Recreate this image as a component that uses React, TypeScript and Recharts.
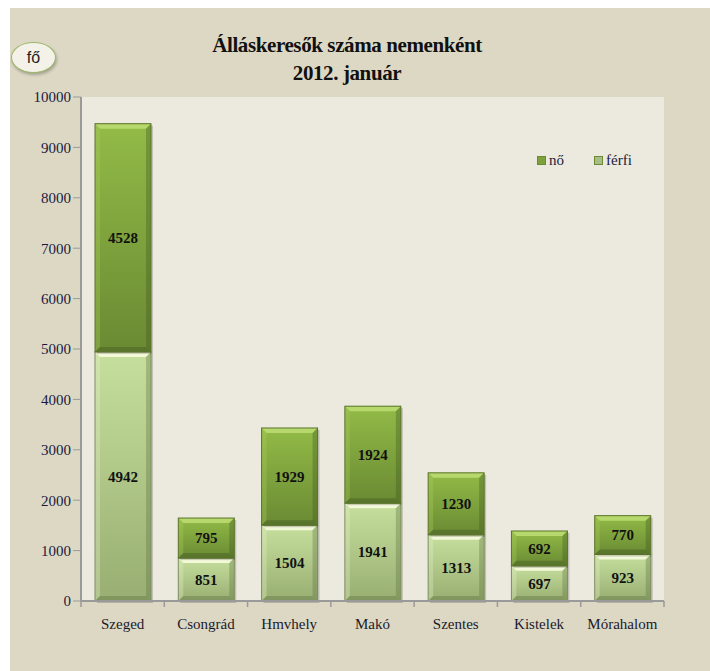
import { BarChart, Bar, XAxis, YAxis, CartesianGrid, LabelList } from 'recharts';

const categories = ['Szeged', 'Csongrád', 'Hmvhely', 'Makó', 'Szentes', 'Kistelek', 'Mórahalom'];
const ferfi = [4942, 851, 1504, 1941, 1313, 697, 923];
const no = [4528, 795, 1929, 1924, 1230, 692, 770];
const yTicks = [0, 1000, 2000, 3000, 4000, 5000, 6000, 7000, 8000, 9000, 10000];

const chartData = categories.map((name, i) => ({ name, ferfi: ferfi[i], no: no[i] }));

const SERIF = '"Liberation Serif", "Times New Roman", serif';

function BevelBar(props: any) {
  const { x, y, width, height, light, dark, hi, edge } = props;
  if (!height || height <= 0) return null;
  const b = Math.min(5, height / 3);
  return (
    <g>
      <rect x={x + 2} y={y + 2} width={width} height={height} fill="rgba(0,0,0,0.18)" />
      <rect x={x} y={y} width={width} height={height} fill={`url(#${props.gid})`} />
      <polygon
        points={`${x},${y} ${x + width},${y} ${x + width - b},${y + b} ${x + b},${y + b}`}
        fill={hi}
      />
      <polygon
        points={`${x},${y} ${x + b},${y + b} ${x + b},${y + height - b} ${x},${y + height}`}
        fill={light}
        opacity={0.35}
      />
      <polygon
        points={`${x + width},${y} ${x + width - b},${y + b} ${x + width - b},${y + height - b} ${x + width},${y + height}`}
        fill={dark}
        opacity={0.35}
      />
      <polygon
        points={`${x},${y + height} ${x + b},${y + height - b} ${x + width - b},${y + height - b} ${x + width},${y + height}`}
        fill={dark}
        opacity={0.4}
      />
      <rect x={x} y={y} width={width} height={height} fill="none" stroke={edge} strokeWidth={1} />
    </g>
  );
}

function XTick(props: any) {
  const { x, y, payload, index } = props;
  const half = payload && payload.offset ? payload.offset : 41.6;
  return (
    <g>
      <line x1={x - half} y1={y - 8} x2={x - half} y2={y - 2} stroke="#9a9a9a" strokeWidth={1.5} />
      {index === categories.length - 1 && (
        <line x1={x + half} y1={y - 8} x2={x + half} y2={y - 2} stroke="#9a9a9a" strokeWidth={1.5} />
      )}
      <text x={x} y={y + 20} textAnchor="middle" fontFamily={SERIF} fontSize={15} fill="#1a1a2e">
        {payload.value}
      </text>
    </g>
  );
}

function LegendBox() {
  const items = [
    { label: 'nő', color: '#7ea13c' },
    { label: 'férfi', color: '#a9be85' },
  ];
  return (
    <div
      style={{
        position: 'absolute',
        left: 537,
        top: 152,
        display: 'flex',
        gap: 30,
        fontFamily: SERIF,
        fontSize: 15,
        color: '#1a1a3a',
      }}
    >
      {items.map((it) => (
        <div key={it.label} style={{ display: 'flex', alignItems: 'center', gap: 3 }}>
          <span style={{ width: 7, height: 7, background: it.color, border: '1px solid #6b8a36', display: 'inline-block' }} />
          <span>{it.label}</span>
        </div>
      ))}
    </div>
  );
}

export default function App() {
  return (
    <div style={{ position: 'absolute', left: 0, top: 0, width: 710, height: 671, background: '#fff', overflow: 'hidden' }}>
      <div style={{ position: 'absolute', left: 10, top: 8, right: 0, bottom: 0, background: '#ddd8c4' }} />
      <div
        style={{
          position: 'absolute',
          left: 0,
          width: 710,
          top: 31,
          textAlign: 'center',
          fontFamily: SERIF,
          fontWeight: 'bold',
          fontSize: 21,
          lineHeight: '28px',
          color: '#111',
          letterSpacing: -0.4,
        }}
      >
        <div style={{ marginLeft: -16 }}>Álláskeresők száma nemenként</div>
        <div style={{ marginLeft: -16 }}>2012. január</div>
      </div>
      <div
        style={{
          position: 'absolute',
          left: 11,
          top: 42,
          width: 43,
          height: 29,
          borderRadius: '50%',
          background: '#f4f2e8',
          border: '1.5px solid #9cb86a',
          boxShadow: '1px 2px 3px rgba(0,0,0,0.25)',
          display: 'flex',
          alignItems: 'center',
          justifyContent: 'center',
          fontFamily: '"Liberation Sans", Arial, sans-serif',
          fontSize: 16,
          color: '#222',
        }}
      >
        fő
      </div>
      <div style={{ position: 'absolute', left: 0, top: 0 }}>
        <BarChart
          width={710}
          height={671}
          data={chartData}
          margin={{ top: 97, right: 46, bottom: 0, left: 21 }}
          barSize={56}
        >
          <defs>
            <linearGradient id="gNo" x1="0" y1="0" x2="0" y2="1">
              <stop offset="0%" stopColor="#92bb47" />
              <stop offset="100%" stopColor="#6a8a33" />
            </linearGradient>
            <linearGradient id="gFerfi" x1="0" y1="0" x2="0" y2="1">
              <stop offset="0%" stopColor="#c6df9d" />
              <stop offset="100%" stopColor="#98ae72" />
            </linearGradient>
          </defs>
          <CartesianGrid fill="#ece9df" stroke="none" horizontal={false} vertical={false} />
          <XAxis
            dataKey="name"
            axisLine={{ stroke: '#9a9a9a', strokeWidth: 2 }}
            tickLine={false}
            tick={<XTick />}
            interval={0}
            height={70}
          />
          <YAxis
            width={60}
            domain={[0, 10000]}
            ticks={yTicks}
            interval={0}
            axisLine={{ stroke: '#9a9a9a', strokeWidth: 2 }}
            tickLine={{ stroke: '#9a9a9a' }}
            tickSize={8}
            tick={{ fontFamily: SERIF, fontSize: 15, fill: '#1a1a40' }}
          />
          <Bar
            dataKey="ferfi"
            stackId="a"
            isAnimationActive={false}
            shape={(p: any) => <BevelBar {...p} gid="gFerfi" hi="#f3f8d8" light="#e4efc8" dark="#5f7040" edge="#7d8f5e" />}
          >
            <LabelList dataKey="ferfi" position="center" fontFamily={SERIF} fontSize={15} fontWeight="bold" fill="#111" />
          </Bar>
          <Bar
            dataKey="no"
            stackId="a"
            isAnimationActive={false}
            shape={(p: any) => <BevelBar {...p} gid="gNo" hi="#b7d86c" light="#a8cc5a" dark="#3f5520" edge="#5a742a" />}
          >
            <LabelList dataKey="no" position="center" fontFamily={SERIF} fontSize={15} fontWeight="bold" fill="#111" />
          </Bar>
        </BarChart>
      </div>
      <LegendBox />
    </div>
  );
}
